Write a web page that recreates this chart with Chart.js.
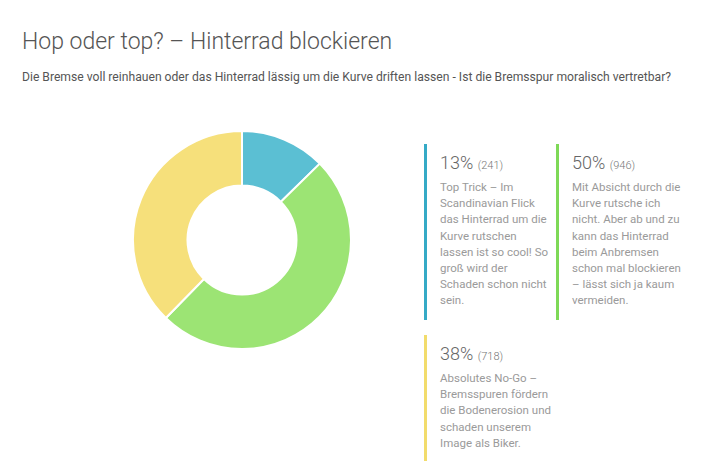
<!DOCTYPE html>
<html>
<head>
<meta charset="utf-8">
<script src="https://cdn.jsdelivr.net/npm/chart.js@4/dist/chart.umd.min.js"></script>
<style>
  body { margin: 0; background: #fff; font-family: Roboto, sans-serif; width: 712px; height: 473px; position: relative; overflow: hidden; }
  h1 { position: absolute; left: 22px; top: 28px; margin: 0; font-weight: 300; font-size: 23px; color: #555; }
  .sub { position: absolute; left: 22px; top: 70px; font-size: 12.15px; color: #555; }
  #wrap { position: absolute; left: 132px; top: 130px; width: 220px; height: 220px; }
  .item { position: absolute; width: 112px; border-left: 3px solid; padding-left: 13px; padding-top: 8px; }
  .item .pct { font-size: 18px; font-weight: 300; color: #666; line-height: 22px; }
  .item .pct span { font-size: 11px; color: #777; }
  .item .txt { font-size: 11.5px; color: #9a9a9a; line-height: 16.2px; margin-top: 2px; }
</style>
</head>
<body>
<h1>Hop oder top? – Hinterrad blockieren</h1>
<div class="sub">Die Bremse voll reinhauen oder das Hinterrad lässig um die Kurve driften lassen - Ist die Bremsspur moralisch vertretbar?</div>
<div id="wrap"><canvas id="myChart"></canvas></div>
<div id="legend"></div>
<script>
const labels = [
  'Top Trick – Im Scandinavian Flick das Hinterrad um die Kurve rutschen lassen ist so cool! So groß wird der Schaden schon nicht sein.',
  'Mit Absicht durch die Kurve rutsche ich nicht. Aber ab und zu kann das Hinterrad beim Anbremsen schon mal blockieren – lässt sich ja kaum vermeiden.',
  'Absolutes No-Go – Bremsspuren fördern die Bodenerosion und schaden unserem Image als Biker.'
];
const votes = [241, 946, 718];
const colors = ['#5bbfd3', '#9ce474', '#f6e07b'];
const legendColors = ['#35aac6', '#7ed957', '#f2dc6c'];

// Legende als HTML
const boxes = [
  { left: 424, top: 144, height: 176 },
  { left: 556, top: 144, height: 176 },
  { left: 424, top: 335, height: 126 }
];
const total = votes.reduce((a, b) => a + b, 0);
const legend = document.getElementById('legend');
labels.forEach((t, i) => {
  const d = document.createElement('div');
  d.className = 'item';
  d.style.left = boxes[i].left + 'px';
  d.style.top = boxes[i].top + 'px';
  d.style.height = (boxes[i].height - 8) + 'px';
  d.style.borderColor = legendColors[i];
  d.innerHTML = '<div class="pct">' + Math.round(votes[i] / total * 100) + '% <span>(' + votes[i] + ')</span></div><div class="txt">' + t + '</div>';
  legend.appendChild(d);
});

const ctx = document.getElementById('myChart').getContext('2d');
new Chart(ctx, {
  type: 'doughnut',
  data: {
    labels: labels,
    datasets: [{
      data: votes,
      backgroundColor: colors,
      borderColor: '#fff',
      borderWidth: 2
    }]
  },
  options: {
    responsive: true,
    maintainAspectRatio: false,
    animation: false,
    cutout: '50%',
    plugins: {
      legend: { display: false },
      tooltip: { enabled: false }
    }
  }
});
</script>
</body>
</html>
